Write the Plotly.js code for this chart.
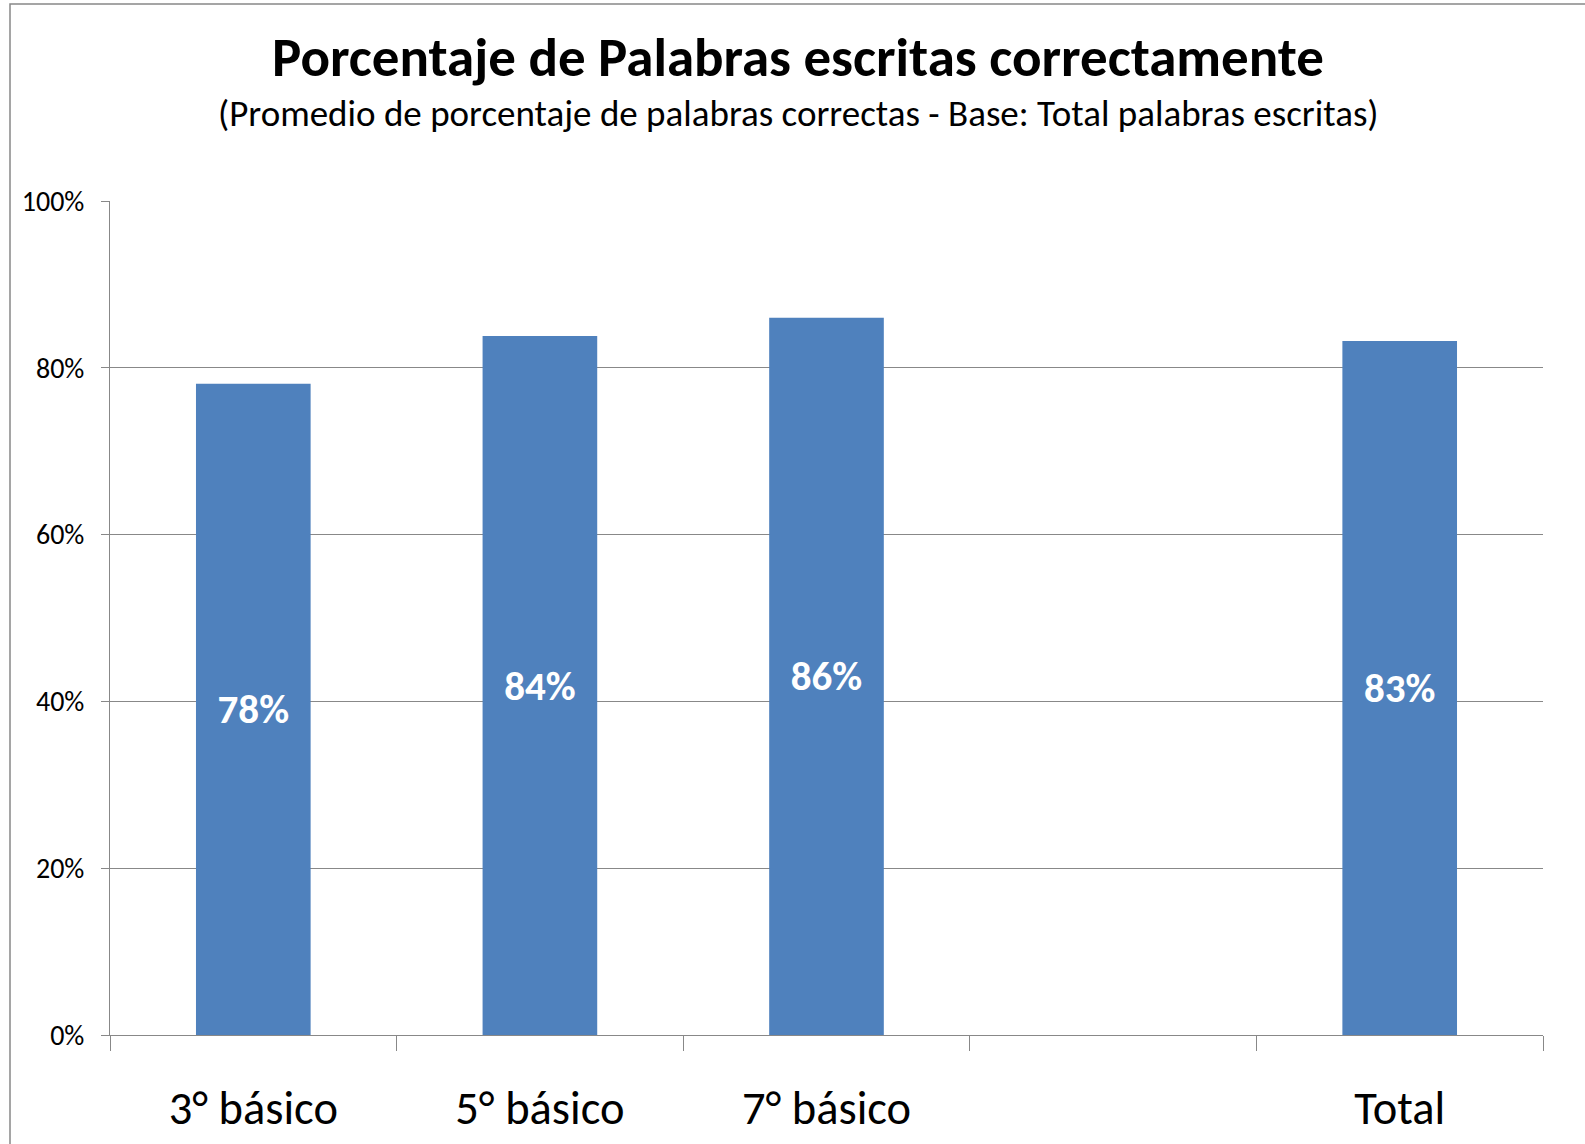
<!DOCTYPE html>
<html>
<head>
<meta charset="utf-8">
<script src="https://cdn.plot.ly/plotly-3.0.1.min.js"></script>
<style>
  html, body { margin: 0; padding: 0; background: #ffffff; }
  #chart { width: 1585px; height: 1144px; }
</style>
</head>
<body>
<div id="chart"></div>
<script>
// ---- data ----
const categories = ['3° básico', '5° básico', '7° básico', ' ', 'Total'];
const values = [0.781, 0.838, 0.860, null, 0.832];
const yTickValues = [0, 0.2, 0.4, 0.6, 0.8, 1.0];

const chartTitle = 'Porcentaje de Palabras escritas correctamente';
const chartSubtitle = '(Promedio de porcentaje de palabras correctas - Base: Total palabras escritas)';

// ---- layout constants ----
const W = 1585, H = 1144;
const M = { l: 110, r: 42, t: 201, b: 109 };
const FONT = 'Carlito, Calibri, Lato, sans-serif';
const GRAY = '#888888';

const plotW = W - M.l - M.r, plotH = H - M.t - M.b;
const px2paperX = p => (p - M.l) / plotW;
const px2paperY = p => (H - M.b - p) / plotH;

const trace = {
  type: 'bar',
  x: categories,
  y: values,
  width: 0.4,
  marker: { color: '#4F81BD', line: { width: 0 } },
  texttemplate: '%{y:.0%}',
  textposition: 'inside',
  insidetextanchor: 'middle',
  textangle: 0,
  textfont: { family: FONT, size: 41, color: '#ffffff', weight: 'bold' },
  hoverinfo: 'skip',
  cliponaxis: false
};

const layout = {
  width: W,
  height: H,
  margin: M,
  paper_bgcolor: '#ffffff',
  plot_bgcolor: '#ffffff',
  showlegend: false,
  font: { family: FONT, color: '#000000' },
  title: {
    text: '<b>' + chartTitle + '</b>',
    font: { family: FONT, size: 55, color: '#000000' },
    x: 798 / W,
    xanchor: 'center',
    xref: 'container',
    y: 1 - 57 / H,
    yanchor: 'middle',
    yref: 'container'
  },
  annotations: [{
    text: chartSubtitle,
    xref: 'paper', yref: 'paper',
    x: px2paperX(798), y: px2paperY(114),
    xanchor: 'center', yanchor: 'middle',
    showarrow: false,
    font: { family: FONT, size: 37, color: '#000000' }
  }],
  shapes: [{
    type: 'rect',
    xref: 'paper', yref: 'paper',
    x0: px2paperX(10), x1: px2paperX(W + 20),
    y0: px2paperY(H + 20), y1: px2paperY(4),
    line: { color: GRAY, width: 1.5 },
    fillcolor: 'rgba(0,0,0,0)',
    layer: 'below'
  }],
  xaxis: {
    type: 'category',
    categoryorder: 'array',
    categoryarray: categories,
    tickson: 'boundaries',
    ticks: 'outside',
    ticklen: 15,
    tickwidth: 1,
    tickcolor: GRAY,
    showline: true,
    linecolor: GRAY,
    linewidth: 1,
    showgrid: false,
    zeroline: false,
    tickfont: { family: FONT, size: 46.5, color: '#000000' },
    ticklabelstandoff: 32,
    fixedrange: true
  },
  yaxis: {
    range: [0, 1],
    tickvals: yTickValues,
    tickformat: '.0%',
    ticks: 'outside',
    ticklen: 8,
    tickwidth: 1,
    tickcolor: GRAY,
    showline: true,
    linecolor: GRAY,
    linewidth: 1,
    showgrid: true,
    gridcolor: GRAY,
    gridwidth: 1,
    zeroline: false,
    tickfont: { family: FONT, size: 28, color: '#000000' },
    ticklabelstandoff: 11,
    fixedrange: true
  }
};

Plotly.newPlot('chart', [trace], layout, { displayModeBar: false, staticPlot: true });
</script>
</body>
</html>
